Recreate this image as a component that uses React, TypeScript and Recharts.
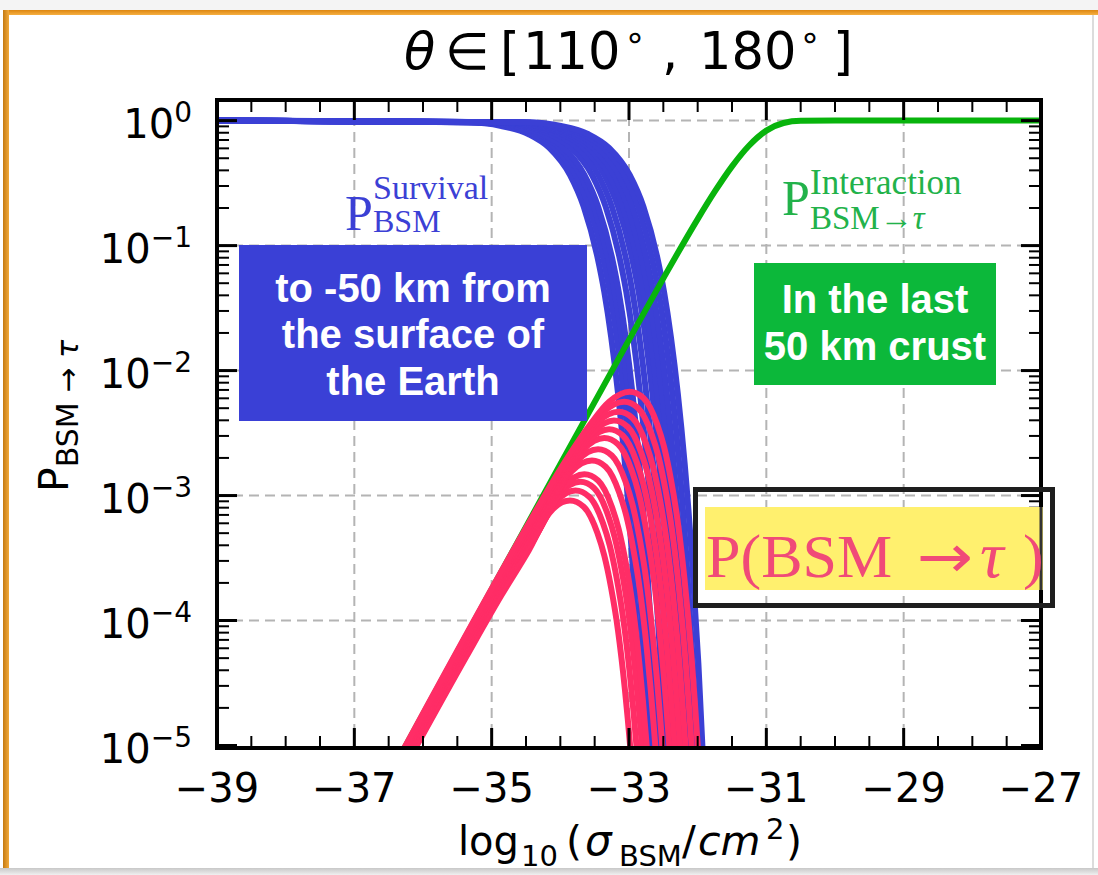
import React from 'react'
import { LineChart, Line, XAxis, YAxis, CartesianGrid } from 'recharts'

// all y values are log10(P)
const xMajor = [-39, -37, -35, -33, -31, -29, -27]
const xTicks = [-39, -38.5, -38, -37.5, -37, -36.5, -36, -35.5, -35, -34.5, -34, -33.5, -33, -32.5, -32, -31.5, -31, -30.5, -30, -29.5, -29, -28.5, -28, -27.5, -27]
const yMajor = [-5, -4, -3, -2, -1, 0]
const yMinorOffsets = [0.301, 0.477, 0.602, 0.699, 0.778, 0.845, 0.903, 0.954]
const xGrid = [-37, -35, -33, -31, -29]
const yGrid = [-4, -3, -2, -1, 0]

// survival levels read along each blue curve, and where each curve crosses them
const survLevels = [-0.014, -0.043, -0.109, -0.218, -0.434, -0.688, -1.09, -1.37, -1.73, -2.18, -2.74, -3.45, -4.34, -5.47]
const curveX01 = [-35.36, -34.86, -34.46, -34.16, -33.86, -33.66, -33.46, -33.36, -33.26, -33.16, -33.06, -32.96, -32.86, -32.76]
const curveX02 = [-35.28, -34.78, -34.38, -34.08, -33.78, -33.58, -33.38, -33.28, -33.18, -33.08, -32.98, -32.88, -32.78, -32.68]
const curveX03 = [-35.21, -34.71, -34.31, -34.01, -33.71, -33.51, -33.31, -33.21, -33.11, -33.01, -32.91, -32.81, -32.71, -32.61]
const curveX04 = [-35.15, -34.65, -34.25, -33.95, -33.65, -33.45, -33.25, -33.15, -33.05, -32.95, -32.85, -32.75, -32.65, -32.55]
const curveX05 = [-35.04, -34.54, -34.14, -33.84, -33.54, -33.34, -33.14, -33.04, -32.94, -32.84, -32.74, -32.64, -32.54, -32.44]
const curveX06 = [-34.95, -34.45, -34.05, -33.75, -33.45, -33.25, -33.05, -32.95, -32.85, -32.75, -32.65, -32.55, -32.45, -32.35]
const curveX07 = [-34.86, -34.36, -33.96, -33.66, -33.36, -33.16, -32.96, -32.86, -32.76, -32.66, -32.56, -32.46, -32.36, -32.26]
const curveX08 = [-34.79, -34.29, -33.89, -33.59, -33.29, -33.09, -32.89, -32.79, -32.69, -32.59, -32.49, -32.39, -32.29, -32.19]
const curveX09 = [-34.72, -34.22, -33.82, -33.52, -33.22, -33.02, -32.82, -32.72, -32.62, -32.52, -32.42, -32.32, -32.22, -32.12]
const curveX10 = [-34.65, -34.15, -33.75, -33.45, -33.15, -32.95, -32.75, -32.65, -32.55, -32.45, -32.35, -32.25, -32.15, -32.05]
const curveX11 = [-34.57, -34.07, -33.67, -33.37, -33.07, -32.87, -32.67, -32.57, -32.47, -32.37, -32.27, -32.17, -32.07, -31.97]
const curveX12 = [-34.49, -33.99, -33.59, -33.29, -32.99, -32.79, -32.59, -32.49, -32.39, -32.29, -32.19, -32.09, -31.99, -31.89]

// P(BSM -> tau) at the same x positions
const redY01 = [-4.28, -3.80, -3.44, -3.14, -3.04, -3.09, -3.30, -3.48, -3.74, -4.08, -4.55, -5.16, -5.95, -6.97]
const redY02 = [-4.19, -3.71, -3.35, -3.06, -2.96, -3.01, -3.22, -3.40, -3.66, -4.00, -4.47, -5.08, -5.87, -6.89]
const redY03 = [-4.11, -3.63, -3.28, -2.99, -2.89, -2.94, -3.15, -3.33, -3.59, -3.93, -4.40, -5.01, -5.80, -6.82]
const redY04 = [-4.04, -3.56, -3.21, -2.93, -2.83, -2.88, -3.09, -3.27, -3.53, -3.87, -4.34, -4.95, -5.74, -6.76]
const redY05 = [-3.90, -3.42, -3.07, -2.81, -2.72, -2.77, -2.98, -3.16, -3.42, -3.76, -4.23, -4.84, -5.63, -6.65]
const redY06 = [-3.80, -3.32, -2.97, -2.72, -2.63, -2.68, -2.89, -3.07, -3.33, -3.67, -4.14, -4.75, -5.54, -6.56]
const redY07 = [-3.70, -3.22, -2.87, -2.63, -2.54, -2.59, -2.80, -2.98, -3.24, -3.58, -4.05, -4.66, -5.45, -6.47]
const redY08 = [-3.61, -3.13, -2.79, -2.56, -2.47, -2.52, -2.73, -2.91, -3.17, -3.51, -3.98, -4.59, -5.38, -6.40]
const redY09 = [-3.53, -3.05, -2.71, -2.49, -2.40, -2.45, -2.66, -2.84, -3.10, -3.44, -3.91, -4.52, -5.31, -6.33]
const redY10 = [-3.44, -2.96, -2.63, -2.41, -2.33, -2.38, -2.59, -2.77, -3.03, -3.37, -3.84, -4.45, -5.24, -6.26]
const redY11 = [-3.35, -2.88, -2.54, -2.33, -2.25, -2.30, -2.51, -2.69, -2.95, -3.29, -3.76, -4.37, -5.16, -6.18]
const redY12 = [-3.25, -2.78, -2.45, -2.25, -2.17, -2.22, -2.43, -2.61, -2.87, -3.21, -3.68, -4.29, -5.08, -6.10]
// where each red curve enters at x = -36.5
const redStartY = [-5.41, -5.40, -5.39, -5.38, -5.35, -5.34, -5.33, -5.31, -5.30, -5.28, -5.27, -5.25]

const blueStart = { x: -39, y: 0 }

const greenX = [-36.5, -35, -34, -33, -32.5, -32, -31.75, -31.5, -31.25, -31, -30.75, -30.5, -30, -27]
const greenY = [-5.25, -3.75, -2.75, -1.754, -1.262, -0.788, -0.567, -0.366, -0.199, -0.08, -0.019, -0.002, 0, 0]

const curveXs = [curveX01, curveX02, curveX03, curveX04, curveX05, curveX06, curveX07, curveX08, curveX09, curveX10, curveX11, curveX12]
const redYs = [redY01, redY02, redY03, redY04, redY05, redY06, redY07, redY08, redY09, redY10, redY11, redY12]

const blueSeries = curveXs.map(xs => [blueStart, ...xs.map((x, i) => ({ x, y: survLevels[i] }))])
const redSeries = curveXs.map((xs, k) => [{ x: -36.5, y: redStartY[k] }, ...xs.map((x, i) => ({ x, y: redYs[k][i] }))])
const greenSeries = greenX.map((x, i) => ({ x, y: greenY[i] }))

const yTicks = [...yMajor, ...yMajor.slice(0, 5).flatMap(n => yMinorOffsets.map(o => n + o))]

const BLUE = '#3b40d5'
const RED = '#ff2d66'
const GREEN = '#08b40c'
const FONT = 'DejaVu Sans'

const minus = (v: number) => (v < 0 ? '\u2212' + Math.abs(v) : String(v))

function BottomTick({ x, y, payload }: any) {
  const major = xMajor.includes(payload.value)
  return (
    <g>
      <line x1={x} x2={x} y1={y} y2={y - (major ? 20 : 12)} stroke="#000" strokeWidth={major ? 3 : 2} />
      {major && (
        <text x={x} y={y + 54} textAnchor="middle" fontSize={40} fontFamily={FONT} fill="#000">{minus(payload.value)}</text>
      )}
    </g>
  )
}

function TopTick({ x, y, payload }: any) {
  const major = xMajor.includes(payload.value)
  return <line x1={x} x2={x} y1={y} y2={y + (major ? 20 : 12)} stroke="#000" strokeWidth={major ? 3 : 2} />
}

function LeftTick({ x, y, payload }: any) {
  const major = Number.isInteger(payload.value)
  return (
    <g>
      <line x1={x} x2={x + (major ? 20 : 12)} y1={y} y2={y} stroke="#000" strokeWidth={major ? 3 : 2} />
      {major && (
        <text x={x - 25} y={y + 17} textAnchor="end" fontFamily={FONT} fill="#000">
          <tspan fontSize={40}>10</tspan>
          <tspan fontSize={28} dy={-16}>{minus(payload.value)}</tspan>
        </text>
      )}
    </g>
  )
}

function RightTick({ x, y, payload }: any) {
  const major = Number.isInteger(payload.value)
  return <line x1={x} x2={x - (major ? 20 : 12)} y1={y} y2={y} stroke="#000" strokeWidth={major ? 3 : 2} />
}

const frame = { stroke: '#000', strokeWidth: 4, strokeLinecap: 'square' as const }

function Overlay() {
  return (
    <svg width={1098} height={875} style={{ position: 'absolute', left: 0, top: 0, pointerEvents: 'none' }}>
      {/* title */}
      <text fontFamily={FONT} fontSize={51} fill="#000">
        <tspan x={404} y={69} fontStyle="italic">θ</tspan>
        <tspan x={445} y={69}>∈</tspan>
        <tspan x={500} y={69}>[</tspan>
        <tspan x={523} y={69}>110</tspan>
        <tspan x={624} y={49} fontSize={35}>∘</tspan>
        <tspan x={662} y={69}>,</tspan>
        <tspan x={699} y={69}>180</tspan>
        <tspan x={799} y={49} fontSize={35}>∘</tspan>
        <tspan x={833} y={69}>]</tspan>
      </text>

      {/* x label */}
      <text fontFamily={FONT} fill="#000">
        <tspan x={458} y={855} fontSize={40}>log</tspan>
        <tspan x={521} y={866} fontSize={29}>10</tspan>
        <tspan x={566} y={855} fontSize={41}>(</tspan>
        <tspan x={585} y={855} fontSize={42} fontStyle="italic">σ</tspan>
        <tspan x={619} y={866} fontSize={29}>BSM</tspan>
        <tspan x={682} y={855} fontSize={41}>/</tspan>
        <tspan x={698} y={855} fontSize={41} fontStyle="italic">cm</tspan>
        <tspan x={766} y={839} fontSize={29}>2</tspan>
        <tspan x={786} y={855} fontSize={41}>)</tspan>
      </text>

      {/* y label */}
      <text transform="rotate(-90)" fontFamily={FONT} fill="#000">
        <tspan x={-492} y={68} fontSize={41}>P</tspan>
        <tspan y={78} fontSize={30}>BSM → </tspan>
        <tspan fontSize={30} fontStyle="italic">τ</tspan>
      </text>

      {/* survival label and box */}
      <text fontFamily="Liberation Serif" fill={BLUE}>
        <tspan x={345} y={230} fontSize={50}>P</tspan>
        <tspan x={373} y={199} fontSize={34}>Survival</tspan>
        <tspan x={373} y={232} fontSize={32}>BSM</tspan>
      </text>
      <rect x={239} y={245} width={348} height={176} fill="#3a40d6" />
      <text fontFamily="Liberation Sans" fontWeight={700} fontSize={40} fill="#fff" textAnchor="middle">
        <tspan x={413} y={302}>to -50 km from</tspan>
        <tspan x={413} y={348}>the surface of</tspan>
        <tspan x={413} y={395}>the Earth</tspan>
      </text>

      {/* interaction label and box */}
      <text fontFamily="Liberation Serif" fill="#22b24a">
        <tspan x={782} y={215} fontSize={50}>P</tspan>
        <tspan x={810} y={194} fontSize={35}>Interaction</tspan>
        <tspan x={810} y={229} fontSize={33}>BSM→</tspan>
        <tspan y={229} fontSize={33} fontStyle="italic">τ</tspan>
      </text>
      <rect x={754} y={263} width={242} height={122} fill="#0cb83a" />
      <text fontFamily="Liberation Sans" fontWeight={700} fontSize={40} fill="#fff" textAnchor="middle">
        <tspan x={875} y={313}>In the last</tspan>
        <tspan x={875} y={360}>50 km crust</tspan>
      </text>

      {/* P(BSM -> tau) box */}
      <rect x={705} y={507} width={338} height={83} fill="#fff06e" />
      <line x1={1041} x2={1041} y1={507} y2={590} stroke="#333" strokeWidth={3} />
      <rect x={695.5} y={489.5} width={357} height={116} fill="none" stroke="#1e1e1e" strokeWidth={5} />
      <text fontFamily="Liberation Serif" fontSize={62} fill="#f04a78">
        <tspan x={706} y={577}>P(BSM</tspan>
        <tspan x={980} y={577} fontSize={66} fontStyle="italic">τ</tspan>
        <tspan x={1023} y={577}>)</tspan>
      </text>
      <text transform="translate(917,577) scale(1.12,1)" fontFamily="DejaVu Sans" fontSize={60} fill="#f04a78">→</text>
    </svg>
  )
}

export default function App() {
  return (
    <div style={{ position: 'absolute', left: 0, top: 0, width: 1098, height: 875, background: '#fff', overflow: 'hidden' }}>
      <div style={{ position: 'absolute', left: 0, top: 0, width: 1098, height: 10, background: '#f4f4f4' }} />
      <div style={{ position: 'absolute', left: 3, top: 10, width: 1095, height: 5, background: 'linear-gradient(#dd8610, #f6b042)' }} />
      <div style={{ position: 'absolute', left: 3, top: 10, width: 6, height: 865, background: 'linear-gradient(to right, #c47a12, #f2aa3c)' }} />
      <div style={{ position: 'absolute', left: 1092, top: 15, width: 2, height: 860, background: '#dcdcdc' }} />
      <div style={{ position: 'absolute', left: 0, top: 868, width: 1098, height: 7, background: 'linear-gradient(#c8c8c8, #f0f0f0)' }} />

      <LineChart width={1098} height={875} margin={{ top: 99, right: 56, bottom: 126, left: 216 }} style={{ position: 'absolute', left: 0, top: 0 }}>
        <CartesianGrid stroke="#b4b4b4" strokeWidth={2} strokeDasharray="10 6" horizontalValues={yGrid} verticalValues={xGrid} />
        <XAxis xAxisId={0} dataKey="x" type="number" domain={[-39, -27]} allowDataOverflow ticks={xTicks} interval={0}
          height={1} tickSize={0} tickMargin={0} axisLine={frame} tick={(p: any) => <BottomTick {...p} />} />
        <XAxis xAxisId="top" orientation="top" dataKey="x" type="number" domain={[-39, -27]} allowDataOverflow ticks={xTicks} interval={0}
          height={1} tickSize={0} tickMargin={0} axisLine={frame} tick={(p: any) => <TopTick {...p} />} />
        <YAxis yAxisId={0} type="number" domain={[-5.02, 0.165]} allowDataOverflow ticks={yTicks} interval={0}
          width={1} tickSize={0} tickMargin={0} axisLine={frame} tick={(p: any) => <LeftTick {...p} />} />
        <YAxis yAxisId="right" orientation="right" type="number" domain={[-5.02, 0.165]} allowDataOverflow ticks={yTicks} interval={0}
          width={1} tickSize={0} tickMargin={0} axisLine={frame} tick={(p: any) => <RightTick {...p} />} />

        {blueSeries.map((d, i) => (
          <Line key={'b' + i} data={d} dataKey="y" type="monotone" stroke={BLUE} strokeWidth={6} dot={false} isAnimationActive={false} />
        ))}
        <Line data={greenSeries} dataKey="y" type="monotone" stroke={GREEN} strokeWidth={6} dot={false} isAnimationActive={false} />
        {redSeries.map((d, i) => (
          <Line key={'r' + i} data={d} dataKey="y" type="monotone" stroke={RED} strokeWidth={6} dot={false} isAnimationActive={false} />
        ))}
      </LineChart>

      <Overlay />
    </div>
  )
}
